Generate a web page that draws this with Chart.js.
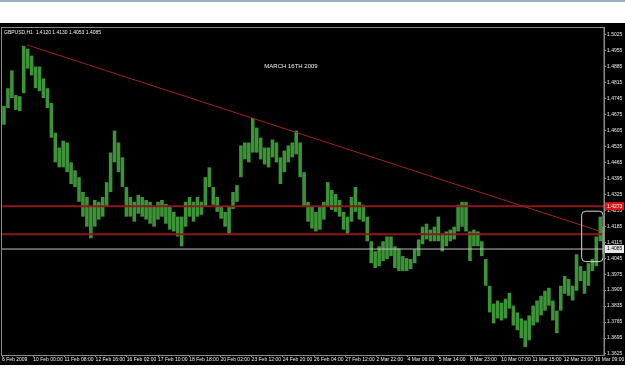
<!DOCTYPE html>
<html>
<head>
<meta charset="utf-8">
<script src="https://cdn.jsdelivr.net/npm/chart.js@4.4.1/dist/chart.umd.min.js"></script>
<style>
  body { margin: 0; background: #fff; width: 625px; height: 391px; overflow: hidden; }
  #topline { position: absolute; left: 0; top: 0; width: 625px; height: 2px; background: #9aaec2; }
  #wrap { position: absolute; left: 0; top: 23px; width: 625px; height: 342px; background: #000; }
</style>
</head>
<body>
<div id="topline"></div>
<div id="wrap"><canvas id="c"></canvas></div>
<script>
// GBPUSD H1, 6 Feb - 16 Mar 2009
const X_LABELS = ['6 Feb 2009', '10 Feb 00:00', '11 Feb 08:00', '12 Feb 16:00', '16 Feb 02:00',
  '17 Feb 10:00', '18 Feb 18:00', '20 Feb 02:00', '23 Feb 12:00', '24 Feb 20:00',
  '26 Feb 04:00', '27 Feb 12:00', '2 Mar 22:00', '4 Mar 06:00', '5 Mar 14:00',
  '8 Mar 23:00', '10 Mar 07:00', '11 Mar 15:00', '12 Mar 23:00', '16 Mar 09:00']
const BARS_PER_LABEL = 32
const BARS_PER_COL = 4.05
const X_MAX = 617.4

const Y_TICKS = [1.3625, 1.3695, 1.3765, 1.3835, 1.3905, 1.3975, 1.4045, 1.4115, 1.4185,
  1.4255, 1.4325, 1.4395, 1.4465, 1.4535, 1.4605, 1.4675, 1.4745, 1.4815, 1.4885, 1.4955, 1.5025]
const Y_MIN = 1.36205
const Y_MAX = 1.50583

// high / low of each group of hourly bars
const HIGHS = [1.4712, 1.4790, 1.4868, 1.4760, 1.4755, 1.4976, 1.4963, 1.4933, 1.4885, 1.4885,
  1.4833, 1.4790, 1.4725, 1.4595, 1.4530, 1.4560, 1.4552, 1.4465, 1.4430, 1.4400,
  1.4335, 1.4313, 1.4270, 1.4300, 1.4292, 1.4313, 1.4378, 1.4508, 1.4604, 1.4552,
  1.4487, 1.4357, 1.4313, 1.4292, 1.4322, 1.4313, 1.4300, 1.4292, 1.4270, 1.4292,
  1.4300, 1.4283, 1.4270, 1.4248, 1.4227, 1.4227, 1.4292, 1.4313, 1.4292, 1.4313,
  1.4292, 1.4400, 1.4443, 1.4357, 1.4313, 1.4270, 1.4248, 1.4270, 1.4335, 1.4365,
  1.4539, 1.4552, 1.4552, 1.4660, 1.4617, 1.4573, 1.4530, 1.4530, 1.4565, 1.4552,
  1.4487, 1.4517, 1.4539, 1.4552, 1.4604, 1.4552, 1.4422, 1.4292, 1.4270, 1.4248,
  1.4270, 1.4292, 1.4378, 1.4344, 1.4326, 1.4300, 1.4248, 1.4227, 1.4313, 1.4357,
  1.4292, 1.4279, 1.4227, 1.4119, 1.4075, 1.4097, 1.4119, 1.4140, 1.4140, 1.4097,
  1.4088, 1.4054, 1.4045, 1.4041, 1.4084, 1.4127, 1.4183, 1.4196, 1.4170, 1.4183,
  1.4227, 1.4153, 1.4162, 1.4170, 1.4183, 1.4279, 1.4292, 1.4292, 1.4162, 1.4170,
  1.4162, 1.4119, 1.4041, 1.3924, 1.3846, 1.3859, 1.3850, 1.3867, 1.3893, 1.3837,
  1.3807, 1.3781, 1.3772, 1.3794, 1.3837, 1.3859, 1.3880, 1.3902, 1.3915, 1.3859,
  1.3815, 1.3924, 1.3967, 1.3954, 1.3924, 1.4062, 1.4010, 1.3989, 1.4023, 1.4041,
  1.4140, 1.4227, 1.4183]
const LOWS = [1.4630, 1.4703, 1.4747, 1.4695, 1.4690, 1.4768, 1.4876, 1.4846, 1.4790, 1.4777,
  1.4747, 1.4703, 1.4573, 1.4465, 1.4443, 1.4443, 1.4422, 1.4370, 1.4357, 1.4292,
  1.4227, 1.4183, 1.4132, 1.4183, 1.4214, 1.4227, 1.4270, 1.4335, 1.4465, 1.4422,
  1.4357, 1.4227, 1.4227, 1.4205, 1.4240, 1.4227, 1.4214, 1.4196, 1.4183, 1.4214,
  1.4227, 1.4196, 1.4170, 1.4162, 1.4140, 1.4097, 1.4183, 1.4227, 1.4205, 1.4227,
  1.4235, 1.4270, 1.4357, 1.4279, 1.4248, 1.4218, 1.4183, 1.4149, 1.4261, 1.4292,
  1.4400, 1.4478, 1.4465, 1.4508, 1.4508, 1.4478, 1.4456, 1.4443, 1.4487, 1.4465,
  1.4370, 1.4422, 1.4465, 1.4487, 1.4500, 1.4400, 1.4270, 1.4205, 1.4175, 1.4162,
  1.4170, 1.4214, 1.4270, 1.4257, 1.4248, 1.4227, 1.4170, 1.4149, 1.4205, 1.4248,
  1.4214, 1.4205, 1.4119, 1.4023, 1.4002, 1.4010, 1.4032, 1.4041, 1.4054, 1.4002,
  1.3989, 1.3989, 1.3989, 1.3997, 1.4023, 1.4054, 1.4106, 1.4127, 1.4119, 1.4119,
  1.4119, 1.4075, 1.4097, 1.4119, 1.4127, 1.4162, 1.4183, 1.4162, 1.4032, 1.4097,
  1.4097, 1.4054, 1.3924, 1.3807, 1.3759, 1.3781, 1.3772, 1.3781, 1.3824, 1.3750,
  1.3729, 1.3694, 1.3655, 1.3685, 1.3750, 1.3763, 1.3794, 1.3815, 1.3837, 1.3772,
  1.3716, 1.3815, 1.3889, 1.3880, 1.3859, 1.3902, 1.3945, 1.3889, 1.3924, 1.3989,
  1.4010, 1.4119, 1.4062]

// drawn objects
const TREND_X = [25.6, 613.3]
const TREND_Y = [1.4980, 1.4163]
const RED_LEVELS = [1.4273, 1.4150]
const LAST_PRICE = 1.4085
const BOX_X = [594, 616]
const BOX_Y = [1.4253, 1.4032]

const SYMBOL_TEXT = 'GBPUSD,H1  1.4120 1.4130 1.4053 1.4085'
const NOTE_TEXT = 'MARCH 16TH 2009'

const green = '#3d9438'
const darkRed = '#8a1a1a'

var bars = HIGHS.map((h, i) => ({ x: (i + 0.5) * BARS_PER_COL, y: [LOWS[i], h] }))
var xTicks = X_LABELS.map((l, i) => ({ value: i * BARS_PER_LABEL }))

function levelLine(v, color, width) {
  return {
    type: 'line',
    data: [{ x: 0, y: v }, { x: X_MAX, y: v }],
    borderColor: color,
    borderWidth: width,
    pointRadius: 0,
    order: 1,
  }
}

const overlay = {
  id: 'overlay',
  afterDatasetsDraw(chart) {
    const { ctx, chartArea, scales } = chart
    const x = scales.x, y = scales.y
    ctx.save()
    // rectangle object
    const l = x.getPixelForValue(BOX_X[0]), r = x.getPixelForValue(BOX_X[1])
    const t = y.getPixelForValue(BOX_Y[0]), b = y.getPixelForValue(BOX_Y[1])
    ctx.strokeStyle = '#d8d8d8'
    ctx.lineWidth = 1
    ctx.beginPath()
    ctx.roundRect(l + 0.5, t + 0.5, r - l, b - t, 4)
    ctx.stroke()
    // frame
    ctx.strokeStyle = '#8a8a8a'
    ctx.strokeRect(1.5, chartArea.top + 0.5, chartArea.right - 1.5, chartArea.bottom - chartArea.top)
    // texts
    ctx.fillStyle = '#f0f0f0'
    ctx.font = '5px "Liberation Sans"'
    ctx.textBaseline = 'middle'
    ctx.textAlign = 'left'
    ctx.fillText(SYMBOL_TEXT, 4, chartArea.top + 6)
    ctx.font = '6px "Liberation Sans"'
    ctx.textAlign = 'center'
    ctx.fillText(NOTE_TEXT, 291, chartArea.top + 39)
    ctx.restore()
  },
  afterDraw(chart) {
    const { ctx, chartArea, scales } = chart
    const y = scales.y
    ctx.save()
    ctx.font = '5px "Liberation Sans"'
    ctx.textBaseline = 'middle'
    ctx.textAlign = 'left'
    var yr = y.getPixelForValue(RED_LEVELS[0])
    ctx.fillStyle = '#e01414'
    ctx.fillRect(chartArea.right + 1, yr - 4, 19, 8)
    ctx.fillStyle = '#fff'
    ctx.fillText(RED_LEVELS[0].toFixed(4), chartArea.right + 3, yr)
    var yl = y.getPixelForValue(LAST_PRICE)
    ctx.fillStyle = '#e8e8e8'
    ctx.fillRect(chartArea.right + 1, yl - 4, 19, 8)
    ctx.fillStyle = '#000'
    ctx.fillText(LAST_PRICE.toFixed(4), chartArea.right + 3, yl)
    ctx.restore()
  },
}

new Chart(document.getElementById('c'), {
  type: 'bar',
  data: {
    datasets: [
      {
        type: 'bar',
        data: bars,
        backgroundColor: green,
        borderWidth: 0,
        barPercentage: 0.9,
        categoryPercentage: 1,
        order: 2,
      },
      {
        type: 'line',
        data: TREND_X.map((v, i) => ({ x: v, y: TREND_Y[i] })),
        borderColor: '#9e2424',
        borderWidth: 1,
        pointRadius: 0,
        order: 1,
      },
      levelLine(RED_LEVELS[0], darkRed, 2),
      levelLine(RED_LEVELS[1], darkRed, 2),
      levelLine(LAST_PRICE, '#bdbdbd', 1),
    ],
  },
  options: {
    responsive: true,
    maintainAspectRatio: false,
    animation: false,
    layout: { padding: { left: 2, top: 0, right: 0, bottom: 0 } },
    plugins: { legend: { display: false }, tooltip: { enabled: false } },
    scales: {
      x: {
        type: 'linear',
        min: 0,
        max: X_MAX,
        offset: false,
        afterBuildTicks: (axis) => { axis.ticks = xTicks },
        afterFit: (axis) => { axis.height = 10 },
        grid: { drawOnChartArea: false, color: '#8a8a8a', tickLength: 2, offset: false },
        border: { color: '#8a8a8a' },
        ticks: {
          autoSkip: false,
          maxRotation: 0,
          align: 'start',
          padding: 0,
          color: '#ececec',
          font: { family: 'Liberation Sans', size: 5 },
          callback: (v, i) => X_LABELS[i],
        },
      },
      y: {
        position: 'right',
        min: Y_MIN,
        max: Y_MAX,
        afterBuildTicks: (axis) => { axis.ticks = Y_TICKS.map(v => ({ value: v })) },
        afterFit: (axis) => { axis.width = 21 },
        grid: { drawOnChartArea: false, color: '#8a8a8a', tickLength: 2 },
        border: { color: '#8a8a8a' },
        ticks: {
          padding: 1,
          color: '#ececec',
          font: { family: 'Liberation Sans', size: 5 },
          callback: (v) => v.toFixed(4),
        },
      },
    },
  },
  plugins: [overlay],
})
</script>
</body>
</html>
